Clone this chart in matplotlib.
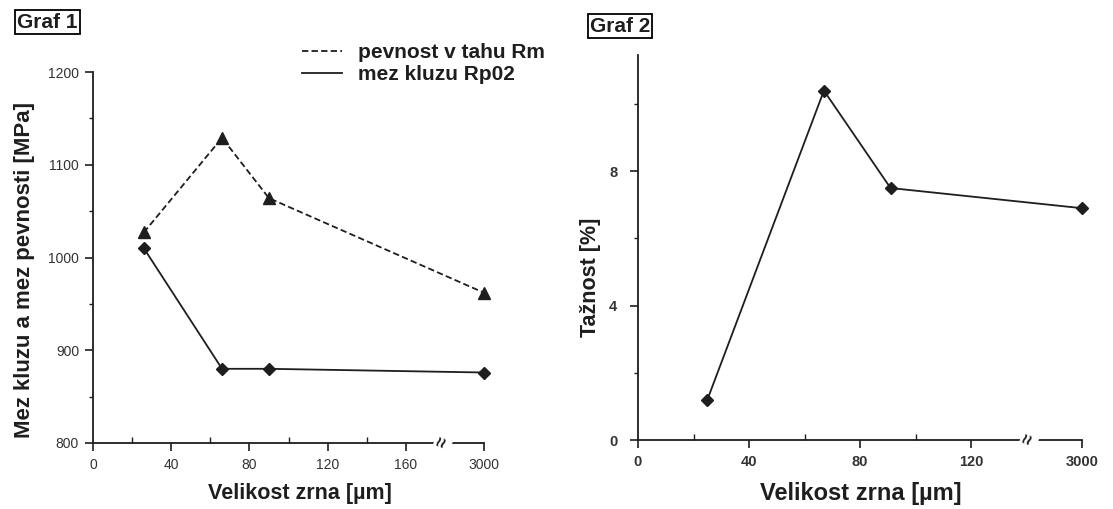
import matplotlib
matplotlib.use("Agg")
import matplotlib.pyplot as plt
from matplotlib.ticker import FixedLocator

plt.rcParams['font.family'] = ['Liberation Sans', 'DejaVu Sans']

# ---------------- data ----------------
grain1 = [26, 66, 90, 3000]              # grain size [um], graph 1
rm_vals = [1027, 1129, 1064, 962]        # pevnost v tahu Rm [MPa]
rp02_vals = [1010, 880, 880, 876]        # mez kluzu Rp02 [MPa]

grain2 = [25, 67, 91, 3000]              # grain size [um], graph 2
elong_vals = [1.2, 10.4, 7.5, 6.9]       # taznost [%]

xticklabels1 = ['0', '40', '80', '120', '160', '3000']
xticklabels2 = ['0', '40', '80', '120', '3000']
yticks1 = [800, 900, 1000, 1100, 1200]
yticks2 = [0, 4, 8]

legend_labels = ['pevnost v tahu Rm', 'mez kluzu Rp02']
ylabel1 = 'Mez kluzu a mez pevnosti [MPa]'
ylabel2 = 'Tažnost [%]'
xlabel = 'Velikost zrna [µm]'

# broken-axis placement: values beyond the break go to the axis end
def brk(vals, end):
    return [v if v < end else end for v in vals]

W, H = 1113, 509
fig = plt.figure(figsize=(W / 100, H / 100), dpi=100)
INK = '#1e1e1e'

def ax_rect(l, r, t, b):
    return [l / W, (H - b) / H, (r - l) / W, (b - t) / H]

def style(ax, size, weight, ypad):
    for s in ['top', 'right']:
        ax.spines[s].set_visible(False)
    for s in ['left', 'bottom']:
        ax.spines[s].set_linewidth(1.3)
        ax.spines[s].set_color(INK)
    ax.tick_params(axis='x', which='major', direction='out', length=6, width=1.2,
                   color=INK, labelsize=size, labelcolor='#333333', pad=5)
    ax.tick_params(axis='x', which='minor', direction='in', length=4, width=1.0, color=INK)
    ax.tick_params(axis='y', which='major', direction='out', length=6, width=1.2,
                   color=INK, labelsize=size, labelcolor='#333333', pad=ypad)
    ax.tick_params(axis='y', which='minor', direction='out', length=3, width=1.0, color=INK)
    for lab in ax.get_xticklabels() + ax.get_yticklabels():
        lab.set_fontweight(weight)
    ax.set_facecolor('white')

# ---------------- Graph 1 ----------------
ax1 = fig.add_axes(ax_rect(93, 484, 72, 443))
END1 = 200
x1 = brk(grain1, END1)
ax1.plot(x1, rm_vals, color=INK, lw=1.3, ls=(0, (3.5, 1.8)), marker='^', ms=8,
         mfc=INK, mec=INK, clip_on=False, zorder=3)
ax1.plot(x1, rp02_vals, color=INK, lw=1.3, ls='-', marker='D', ms=6.5,
         mfc=INK, mec=INK, clip_on=False, zorder=3)
ax1.set_xlim(0, END1)
ax1.set_ylim(800, 1200)
ax1.xaxis.set_major_locator(FixedLocator([0, 40, 80, 120, 160, END1]))
ax1.set_xticklabels(xticklabels1)
ax1.xaxis.set_minor_locator(FixedLocator([20, 60, 100, 140]))
ax1.yaxis.set_major_locator(FixedLocator(yticks1))
ax1.yaxis.set_minor_locator(FixedLocator([850, 950, 1050, 1150]))
style(ax1, 10, 'normal', 4)
ax1.set_xlabel(xlabel, fontsize=15.5, fontweight='bold', color=INK, va='center')
ax1.xaxis.set_label_coords(0.529, -0.135)
ax1.set_ylabel(ylabel1, fontsize=16, fontweight='bold', color=INK, va='center')
ax1.yaxis.set_label_coords(-0.175, 0.466)
ax1.text(179, 800, '≈', rotation=70, ha='center', va='center', fontsize=13,
         fontweight='bold', color=INK, transform=ax1.transData, clip_on=False,
         zorder=5, bbox=dict(facecolor='white', edgecolor='none', pad=0.2))

# legend (hand placed)
leg = ax1.legend(legend_labels, loc='upper left', bbox_to_anchor=(292 / W, (H - 33) / H),
                 bbox_transform=fig.transFigure, frameon=False, handlelength=1.9,
                 handletextpad=0.75, labelspacing=0.12, borderpad=0,
                 prop={'size': 15, 'weight': 'bold'})
for h in leg.legend_handles:
    h.set_marker('')
for t in leg.get_texts():
    t.set_color(INK)

# ---------------- Graph 2 ----------------
ax2 = fig.add_axes(ax_rect(638, 1082, 55, 440))
END2 = 160
x2 = brk(grain2, END2)
ax2.plot(x2, elong_vals, color=INK, lw=1.3, ls='-', marker='D', ms=6.5,
         mfc=INK, mec=INK, clip_on=False, zorder=3)
ax2.set_xlim(0, END2)
ax2.set_ylim(0, 11.46)
ax2.xaxis.set_major_locator(FixedLocator([0, 40, 80, 120, END2]))
ax2.set_xticklabels(xticklabels2)
ax2.xaxis.set_minor_locator(FixedLocator([20, 60, 100]))
ax2.yaxis.set_major_locator(FixedLocator(yticks2))
ax2.yaxis.set_minor_locator(FixedLocator([2, 6, 10]))
style(ax2, 10.5, 'bold', 9)
ax2.set_xlabel(xlabel, fontsize=17, fontweight='bold', color=INK, va='center')
ax2.xaxis.set_label_coords(0.501, -0.14)
ax2.set_ylabel(ylabel2, fontsize=15.5, fontweight='bold', color=INK, va='center')
ax2.yaxis.set_label_coords(-0.106, 0.423)
ax2.text(141, 0, '≈', rotation=70, ha='center', va='center', fontsize=13,
         fontweight='bold', color=INK, transform=ax2.transData, clip_on=False,
         zorder=5, bbox=dict(facecolor='white', edgecolor='none', pad=0.2))

# boxed titles
box = dict(facecolor='white', edgecolor='black', linewidth=1.3, pad=1.5)
fig.text(17 / W, 1 - 22 / H, 'Graf 1', fontsize=15, fontweight='bold', ha='left',
         va='center', color=INK, bbox=box)
fig.text(590 / W, 1 - 26 / H, 'Graf 2', fontsize=15, fontweight='bold', ha='left',
         va='center', color=INK, bbox=box)

fig.savefig('out.png', dpi=100, facecolor='white')
